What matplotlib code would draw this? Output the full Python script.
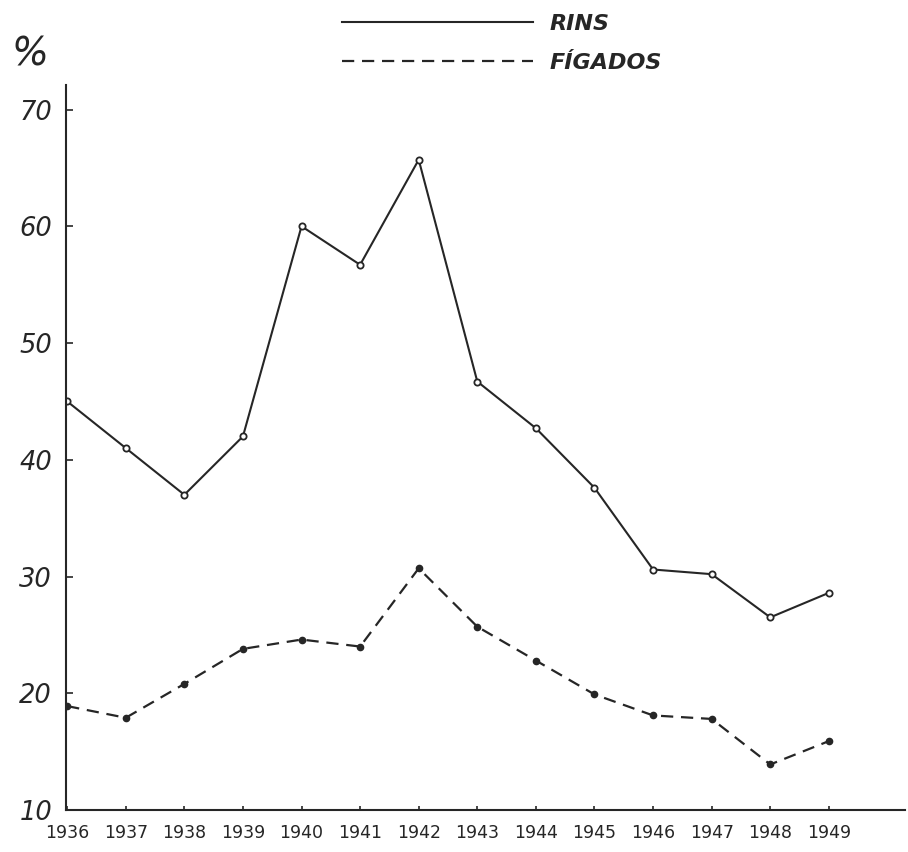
import matplotlib
matplotlib.use("Agg")
import matplotlib.pyplot as plt

# values (%)
years = list(range(1936, 1950))
rins = [45, 41, 37, 42, 60, 56.7, 65.7, 46.7, 42.7, 37.6, 30.6, 30.2, 26.5, 28.6]
figados = [18.9, 17.9, 20.8, 23.8, 24.6, 24.0, 30.7, 25.7, 22.8, 19.9, 18.1, 17.8, 13.9, 15.9]
yticks = [10, 20, 30, 40, 50, 60, 70]
labels = ["RINS", "FÍGADOS"]

ink = "#262626"

fig = plt.figure(figsize=(9.08, 8.52), dpi=100)
ax = fig.add_axes([66/908, 42/852, 839/908, 725/852])

l1, = ax.plot(years, rins, color=ink, lw=1.5, marker="o", ms=4.5,
              mfc="white", mec=ink, mew=1.3, label=labels[0])
l2, = ax.plot(years, figados, color=ink, lw=1.6, ls=(0, (5.5, 3.5)), marker="o",
              ms=4.5, mfc=ink, mec=ink, mew=1.0, label=labels[1])

ax.set_xlim(1935.98, 1950.3)
ax.set_ylim(10, 72.1)
ax.set_xticks(years)
ax.set_yticks(yticks)
ax.set_xticklabels([str(y) for y in years], fontsize=12.5, color=ink)
ax.set_yticklabels([str(v) for v in yticks], fontsize=18.5, color=ink, style="italic")
ax.tick_params(axis="y", direction="in", length=5, width=1.2, pad=10, colors=ink)
ax.tick_params(axis="x", direction="in", length=3, width=1.2, pad=10, colors=ink)
for t in ax.get_yticklabels():
    t.set_color(ink)
for t in ax.get_xticklabels():
    t.set_color(ink)

for s in ["top", "right"]:
    ax.spines[s].set_visible(False)
for s in ["left", "bottom"]:
    ax.spines[s].set_color(ink)
    ax.spines[s].set_linewidth(1.5)

fig.text(11/908, 1 - 54/852, "%", fontsize=28, style="italic", color=ink, va="center")

leg = fig.legend(handles=[l1, l2], loc="upper left",
                 bbox_to_anchor=(342/908, 1 - 14/852), frameon=False,
                 handlelength=8.6, handletextpad=0.75, borderpad=0, borderaxespad=0,
                 labelspacing=0.85,
                 prop={"size": 16, "weight": "bold", "style": "italic"})
for h in leg.legend_handles:
    h.set_marker("")
for t in leg.get_texts():
    t.set_color(ink)

plt.savefig("out.png", dpi=100, facecolor="white")
